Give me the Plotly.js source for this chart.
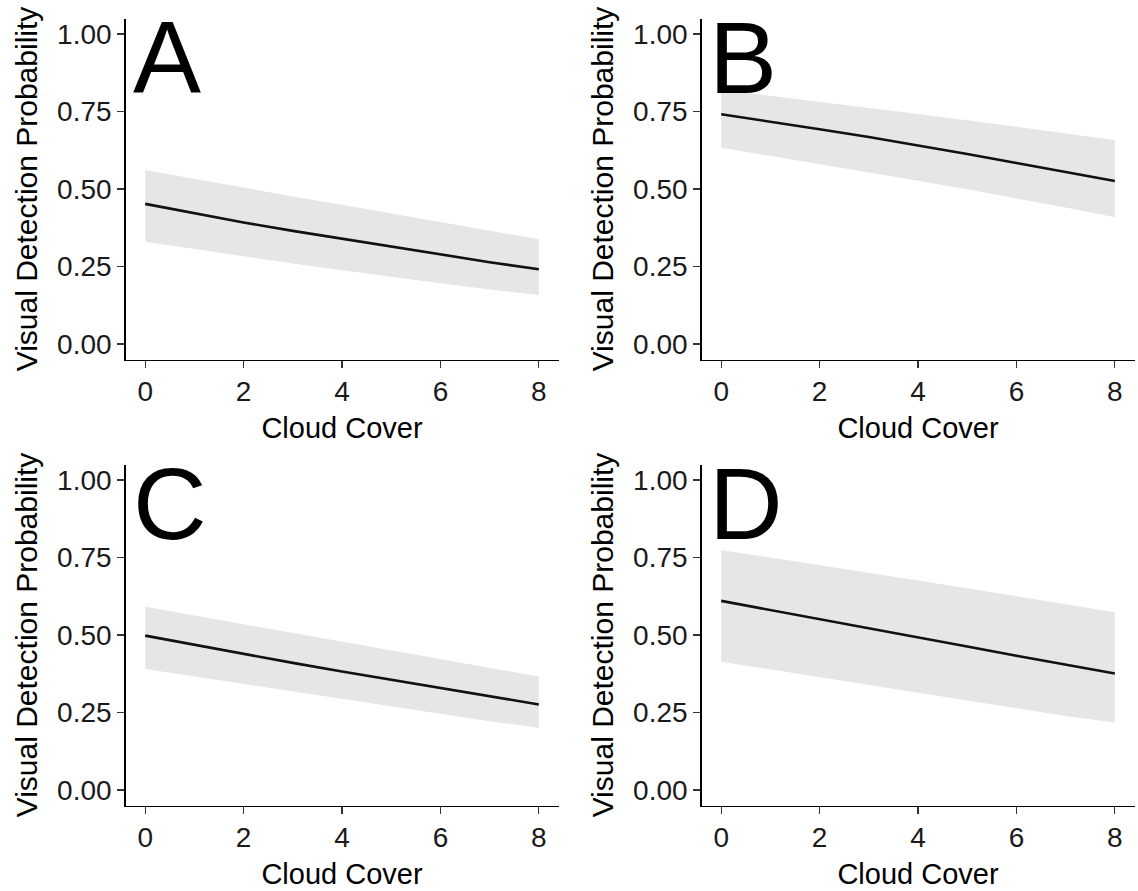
<!DOCTYPE html>
<html>
<head>
<meta charset="utf-8">
<script src="https://cdn.plot.ly/plotly-3.0.1.min.js"></script>
<style>html,body{margin:0;padding:0;background:#fff;}#chart{width:1138px;height:891px;}</style>
</head>
<body>
<div id="chart"></div>
<script>
// Cloud cover values (x)
const cloudCover = [0, 1, 2, 3, 4, 5, 6, 7, 8];

// Panel labels
const panelLabels = ["A", "B", "C", "D"];

// Fitted visual detection probability per panel (mean and interval bounds)
const meanA = [0.452, 0.421, 0.392, 0.365, 0.340, 0.313, 0.288, 0.264, 0.241];
const upperA = [0.561, 0.532, 0.504, 0.476, 0.449, 0.421, 0.393, 0.365, 0.338];
const lowerA = [0.330, 0.306, 0.283, 0.260, 0.238, 0.216, 0.196, 0.176, 0.158];

const meanB = [0.741, 0.718, 0.693, 0.668, 0.641, 0.613, 0.584, 0.555, 0.526];
const upperB = [0.820, 0.801, 0.782, 0.762, 0.742, 0.722, 0.701, 0.680, 0.658];
const lowerB = [0.633, 0.607, 0.581, 0.554, 0.527, 0.499, 0.470, 0.440, 0.409];

const meanC = [0.498, 0.468, 0.438, 0.410, 0.382, 0.355, 0.328, 0.301, 0.276];
const upperC = [0.591, 0.563, 0.535, 0.507, 0.479, 0.451, 0.422, 0.394, 0.366];
const lowerC = [0.390, 0.366, 0.342, 0.317, 0.292, 0.268, 0.245, 0.222, 0.201];

const meanD = [0.610, 0.581, 0.552, 0.522, 0.493, 0.463, 0.433, 0.404, 0.376];
const upperD = [0.774, 0.750, 0.726, 0.701, 0.676, 0.651, 0.625, 0.599, 0.573];
const lowerD = [0.414, 0.389, 0.363, 0.337, 0.312, 0.287, 0.262, 0.239, 0.218];

// Tick labels
const xTickVals = [0, 2, 4, 6, 8];
const yTickVals = [0, 0.25, 0.5, 0.75, 1];
const yTickText = ["0.00", "0.25", "0.50", "0.75", "1.00"];

const xTitle = "Cloud Cover";
const yTitle = "Visual Detection Probability";

const panels = [
  {mean: meanA, upper: upperA, lower: lowerA},
  {mean: meanB, upper: upperB, lower: lowerB},
  {mean: meanC, upper: upperC, lower: lowerC},
  {mean: meanD, upper: upperD, lower: lowerD}
];

const W = 1138, H = 891;
// pixel geometry of each panel: [left, right, top, bottom]
const geom = [
  [125.5, 558.5, 18.5, 359.5],
  [701.5, 1134.5, 18.5, 359.5],
  [125.5, 558.5, 464.5, 805.5],
  [701.5, 1134.5, 464.5, 805.5]
];

const FONT = "Liberation Sans, Arial, sans-serif";
const traces = [];
const layout = {
  width: W, height: H,
  margin: {l: 0, r: 0, t: 0, b: 0},
  paper_bgcolor: "#ffffff",
  plot_bgcolor: "#ffffff",
  showlegend: false,
  font: {family: FONT, color: "#000"},
  annotations: []
};

panels.forEach((p, i) => {
  const n = i === 0 ? "" : String(i + 1);
  const xa = "x" + n, ya = "y" + n;
  traces.push({
    x: cloudCover, y: p.lower, xaxis: xa, yaxis: ya,
    mode: "lines", line: {width: 0, color: "rgba(0,0,0,0)"},
    hoverinfo: "skip", type: "scatter"
  });
  traces.push({
    x: cloudCover, y: p.upper, xaxis: xa, yaxis: ya,
    mode: "lines", line: {width: 0, color: "rgba(0,0,0,0)"},
    fill: "tonexty", fillcolor: "#e6e6e6",
    hoverinfo: "skip", type: "scatter"
  });
  traces.push({
    x: cloudCover, y: p.mean, xaxis: xa, yaxis: ya,
    mode: "lines", line: {width: 2.6, color: "#111111"},
    type: "scatter"
  });
  const g = geom[i];
  layout["xaxis" + n] = {
    domain: [g[0] / W, g[1] / W],
    anchor: ya,
    range: [-0.4, 8.4],
    tickvals: xTickVals,
    ticks: "outside", ticklen: 7, tickwidth: 1.3, tickcolor: "#333",
    showline: true, linecolor: "#000", linewidth: 1.3,
    showgrid: false, zeroline: false,
    tickfont: {family: FONT, size: 28, color: "#1a1a1a"},
    title: {text: xTitle, font: {family: FONT, size: 29, color: "#000"}, standoff: 11}
  };
  layout["yaxis" + n] = {
    domain: [(H - g[3]) / H, (H - g[2]) / H],
    anchor: xa,
    range: [-0.05, 1.05],
    tickvals: yTickVals, ticktext: yTickText,
    ticks: "outside", ticklen: 7, tickwidth: 1.3, tickcolor: "#333",
    showline: true, linecolor: "#000", linewidth: 1.3,
    showgrid: false, zeroline: false,
    tickfont: {family: FONT, size: 28, color: "#1a1a1a"},
    title: {text: yTitle, font: {family: FONT, size: 30, color: "#000"}, standoff: 10}
  };
  const lx = (g[0] + 7) / W;
  const ly = (H - (g[2] - 18.5 + 114.5)) / H;
  layout.annotations.push({
    text: panelLabels[i], xref: "paper", yref: "paper",
    x: lx, y: ly, xanchor: "left", yanchor: "bottom",
    borderpad: 0, borderwidth: 0,
    showarrow: false, font: {family: FONT, size: 102, color: "#000"}
  });
});

Plotly.newPlot("chart", traces, layout, {staticPlot: true, displayModeBar: false});
</script>
</body>
</html>
